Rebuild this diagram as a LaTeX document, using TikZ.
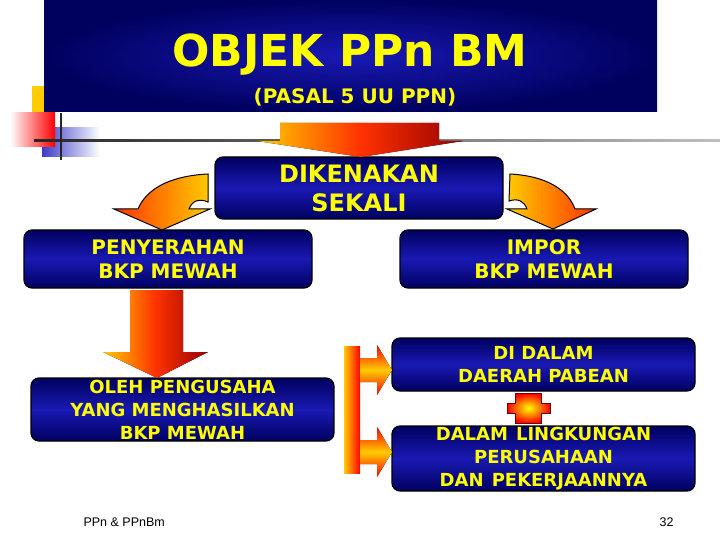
\documentclass[tikz,border=0pt]{standalone}
\usepackage{fontspec}
\setmainfont{DejaVu Sans}
\newfontfamily\footfont{Liberation Sans}
\usepackage{tikz}
\usetikzlibrary{calc}
\definecolor{navyedge}{RGB}{0,0,95}
\definecolor{navymid}{RGB}{25,25,180}
\definecolor{ytxt}{RGB}{255,255,0}
\definecolor{gold}{RGB}{255,204,0}
\definecolor{fire}{RGB}{255,50,0}
\definecolor{ember}{RGB}{150,0,0}
\tikzstyle{box} = [rectangle, draw=black, line width=1.2pt, rounded corners=8pt, top color=navyedge, bottom color=navyedge, middle color=navymid, text=ytxt, align=center, inner sep=0pt, font=\bfseries\fontsize{18}{23}\selectfont]
\tikzstyle{bigbox} = [box, font=\bfseries\fontsize{20}{24}\selectfont]
\tikzstyle{flow} = [left color=gold, right color=ember, middle color=fire]
\tikzstyle{bent} = [draw=black, line width=1pt]

\begin{document}
\begin{tikzpicture}[x=1pt,y=-1pt]
	\useasboundingbox (0,0) rectangle (720,540);
	% ornament left of the title
	\fill[gold] (32,86) rectangle (44,112);
	\fill[left color={rgb,255:red,60;green,60;blue,200}, right color=white] (42,128) rectangle (100,157);
	\fill[left color=white, right color=red] (10,113) rectangle (55,147);
	\fill[left color=black!85, right color=black!25] (34,140) rectangle (720,142);
	\draw[line width=2pt, black!85] (61,113) -- (61,160);
	% title
	\node[rectangle, inner color=navymid, outer color=navyedge, minimum width=613pt, minimum height=112pt] (title) at (350.5,56) {};
	\node[text=ytxt, font=\bfseries\fontsize{44}{50}\selectfont, anchor=base] (judul) at (350,67) {OBJEK PPn BM};
	\node[text=ytxt, font=\bfseries\fontsize{20}{22}\selectfont, anchor=base] (pasal) at (355,104) {(PASAL 5 UU PPN)};
	% boxes
	\node[box, minimum width=288pt, minimum height=62pt, font=\bfseries\fontsize{24}{29}\selectfont] (kena) at (359,188) {DIKENAKAN\\SEKALI};
	\node[bigbox, minimum width=288pt, minimum height=58pt] (serah) at (168,259) {PENYERAHAN\\BKP MEWAH};
	\node[bigbox, minimum width=288pt, minimum height=58pt] (impor) at (544,259) {IMPOR\\BKP MEWAH};
	\node[box, minimum width=303pt, minimum height=63pt] (oleh) at (182.5,409.5) {OLEH PENGUSAHA\\YANG MENGHASILKAN\\BKP MEWAH};
	\node[box, minimum width=303pt, minimum height=53pt] (pabean) at (543.5,364.5) {DI DALAM\\DAERAH PABEAN};
	\node[box, minimum width=303pt, minimum height=65pt] (usaha) at (543.5,458.5) {DALAM\hspace{0.45em}LINGKUNGAN\\PERUSAHAAN\\DAN\hspace{0.45em}PEKERJAANNYA};
	% block arrows
	\fill[flow] (280,123) -- (439,123) -- (439,141) -- (463,141) -- (361,157) -- (257,141) -- (280,141) -- cycle;
	\fill[flow] (130,290) -- (183,290) -- (183,352) -- (208,352) -- (157,378) -- (103,352) -- (130,352) -- cycle;
	\draw[bent, left color=fire, right color=gold] (208,174) .. controls (168,176) and (146,190) .. (138,209) -- (114,209) -- (162,230) -- (210,209) -- (189,209) .. controls (192,201) and (199,198) .. (208,202) -- cycle;
	\draw[bent, left color=gold, right color=fire] (510,174) .. controls (547,176) and (568,190) .. (575,209) -- (596,209) -- (553,229) -- (507,209) -- (527,209) .. controls (524,201) and (518,198) .. (509,201) -- cycle;
	% bar with two arrows
	\fill[left color=gold, right color=red] (344,346) rectangle (360,473);
	\foreach \y in {370,452}
		\fill[top color=red, bottom color=red, middle color=gold] (360,\y-12) -- (377,\y-12) -- (377,\y-25) -- (392,\y) -- (377,\y+25) -- (377,\y+12) -- (360,\y+12) -- cycle;
	% small star between the two right boxes
	\draw[draw=red!40!black, line width=1pt, inner color=yellow, outer color=red] (515,393) -- (541,393) -- (541,403) -- (550,403) -- (550,413) -- (541,413) -- (541,423) -- (515,423) -- (515,413) -- (507,413) -- (507,403) -- (515,403) -- cycle;
	% footer
	\node[font=\footfont\fontsize{12.5}{15}\selectfont, anchor=west] (kaki) at (80,522) {PPn \& PPnBm};
	\node[font=\footfont\fontsize{12.5}{15}\selectfont, anchor=east] (hal) at (677,522) {32};
\end{tikzpicture}
\end{document}
